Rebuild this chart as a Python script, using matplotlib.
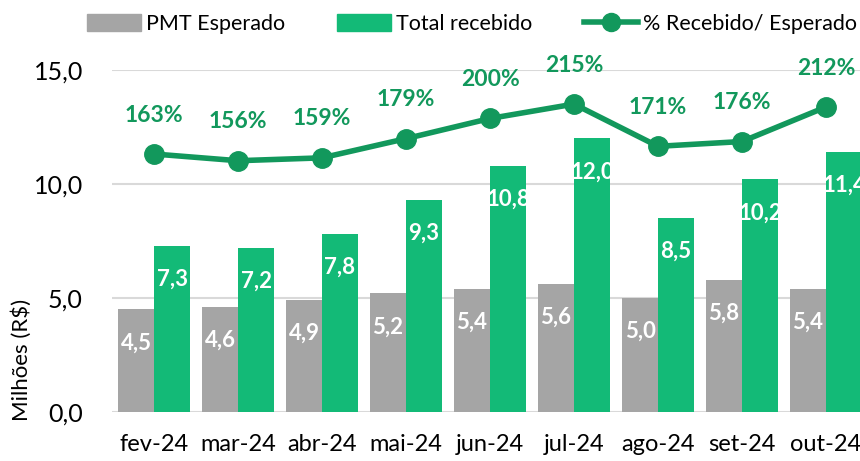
import matplotlib
matplotlib.use("Agg")
import matplotlib.pyplot as plt
from matplotlib.patches import Patch
from matplotlib.lines import Line2D
import numpy as np

plt.rcParams['font.family'] = ['Lato', 'DejaVu Sans']

months = ["fev-24", "mar-24", "abr-24", "mai-24", "jun-24", "jul-24", "ago-24", "set-24", "out-24"]
pmt_esperado = [4.5, 4.6, 4.9, 5.2, 5.4, 5.6, 5.0, 5.8, 5.4]
total_recebido = [7.3, 7.2, 7.8, 9.3, 10.8, 12.0, 8.5, 10.2, 11.4]
pct_recebido = [163, 156, 159, 179, 200, 215, 171, 176, 212]
yticks = [0, 5, 10, 15]

GRAY = "#A5A5A5"
GREEN = "#13BA77"
LINE_GREEN = "#12985C"

fig = plt.figure(figsize=(8.6, 4.61), dpi=100)
ax = fig.add_axes([112/860, 49/461, 756/860, 342/461])

x = np.arange(len(months))
w = 36/84
ax.bar(x - w/2, pmt_esperado, w, color=GRAY, zorder=2)
ax.bar(x + w/2, total_recebido, w, color=GREEN, zorder=2)

def fmt(v):
    return f"{v:.1f}".replace(".", ",")

for xi, v in zip(x, pmt_esperado):
    ax.annotate(fmt(v), (xi - w/2, v), xytext=(0, -24), textcoords="offset points",
                ha="center", va="center", color="white", fontsize=16, fontweight="bold", zorder=4)
for xi, v in zip(x, total_recebido):
    ax.annotate(fmt(v), (xi + w/2, v), xytext=(0, -24), textcoords="offset points",
                ha="center", va="center", color="white", fontsize=16, fontweight="bold", zorder=4)

ax.set_xlim(-0.5, len(months) - 0.5)
ax.set_ylim(0, 15)
ax.set_yticks(yticks)
ax.set_yticklabels([fmt(v) for v in yticks], fontsize=18)
ax.set_xticks(x)
ax.set_xticklabels(months, fontsize=17)
ax.tick_params(axis="both", length=0)
ax.tick_params(axis="y", pad=21)
ax.tick_params(axis="x", pad=16)
ax.grid(axis="y", color="#D9D9D9", linewidth=1.5, zorder=0)
for s in ax.spines.values():
    s.set_visible(False)

ax2 = ax.twinx()
ax2.plot(x, np.array(pct_recebido) / 100, color=LINE_GREEN, linewidth=4, marker="o",
         markersize=14, zorder=5)
ax2.set_ylim(-1.0575, 2.505)
ax2.set_yticks([])
for s in ax2.spines.values():
    s.set_visible(False)
for xi, p in zip(x, pct_recebido):
    ax2.annotate(f"{p}%", (xi, p / 100), xytext=(0, 28), textcoords="offset points",
                 ha="center", va="center", color=LINE_GREEN, fontsize=16.5, fontweight="bold")

fig.text(22/860, 1 - 360/461, "Milhões (R$)", rotation=90, ha="center", va="center", fontsize=16)

handles = [Patch(color=GRAY), Patch(color=GREEN),
           Line2D([0], [0], color=LINE_GREEN, linewidth=4, marker="o", markersize=13)]
labels = ["PMT Esperado", "Total recebido", "% Recebido/ Esperado"]
fig.legend(handles, labels, loc="center", bbox_to_anchor=(472/860, 1 - 24/461), ncol=3,
           frameon=False, fontsize=15.5, handlelength=2.5, handleheight=0.8,
           columnspacing=2.4, handletextpad=0.25, borderpad=0)

fig.savefig("out.png", dpi=100)
